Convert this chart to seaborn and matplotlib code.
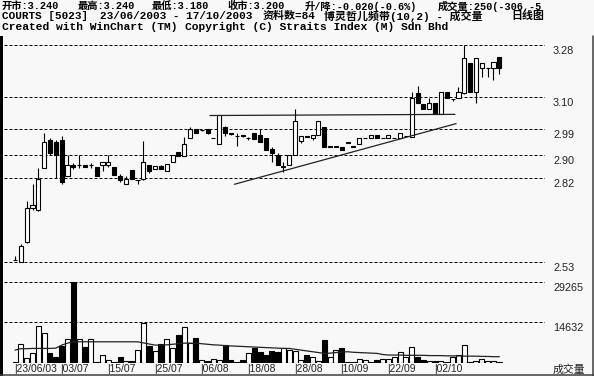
import numpy as np
import pandas as pd
import matplotlib
matplotlib.use("Agg")
import matplotlib.pyplot as plt
import matplotlib.transforms as mtransforms
from matplotlib.patches import Rectangle
from matplotlib.lines import Line2D
import seaborn as sns

# ---------------- data ----------------
opens = [2.535, 2.530, 2.600, 2.715, 2.710, 2.855, 2.950, 2.945, 2.950, 2.825,
         2.865, 2.864, 2.866, 2.864, 2.857, 2.866, 2.866, 2.857, 2.828, 2.798,
         2.847, 2.812, 2.816, 2.865, 2.850, 2.860, 2.845, 2.874, 2.909, 2.897,
         2.957, 2.988, 2.985, 2.990, 2.957, 2.937, 2.995, 2.977, 2.965, 2.969,
         2.957, 2.974, 2.969, 2.957, 2.919, 2.899, 2.859, 2.865, 2.899, 2.949,
         2.965, 2.957, 2.969, 2.995, 2.928, 2.928, 2.928, 2.942, 2.928, 2.937,
         2.957, 2.957, 2.969, 2.957, 2.957, 2.957, 2.957, 2.965, 2.963, 3.115,
         3.076, 3.058, 3.078, 3.040, 3.116, 3.094, 3.096, 3.113, 3.217, 3.116,
         3.200, 3.200, 3.200, 3.240]
highs = [2.550, 2.590, 2.740, 2.800, 2.855, 2.975, 2.957, 2.950, 2.965, 2.900,
         2.870, 2.900, 2.866, 2.872, 2.857, 2.876, 2.900, 2.857, 2.833, 2.825,
         2.847, 2.812, 2.948, 2.865, 2.860, 2.865, 2.867, 2.899, 2.909, 2.960,
         2.995, 2.990, 2.987, 2.990, 2.957, 3.038, 3.000, 2.977, 2.974, 2.969,
         2.960, 2.974, 2.988, 2.957, 2.928, 2.905, 2.876, 2.899, 3.057, 2.965,
         2.965, 2.969, 3.018, 2.995, 2.928, 2.928, 2.928, 2.942, 2.928, 2.957,
         2.957, 2.969, 2.969, 2.957, 2.969, 2.957, 2.977, 2.965, 3.116, 3.138,
         3.076, 3.096, 3.078, 3.116, 3.116, 3.094, 3.136, 3.280, 3.217, 3.236,
         3.217, 3.200, 3.220, 3.240]
lows = [2.535, 2.528, 2.595, 2.710, 2.705, 2.855, 2.899, 2.820, 2.800, 2.825,
        2.850, 2.855, 2.858, 2.855, 2.827, 2.843, 2.857, 2.829, 2.805, 2.798,
        2.816, 2.800, 2.814, 2.838, 2.850, 2.850, 2.845, 2.874, 2.897, 2.897,
        2.957, 2.976, 2.983, 2.972, 2.957, 2.937, 2.965, 2.968, 2.930, 2.962,
        2.953, 2.955, 2.945, 2.917, 2.876, 2.865, 2.842, 2.865, 2.899, 2.940,
        2.960, 2.952, 2.969, 2.928, 2.928, 2.928, 2.917, 2.942, 2.928, 2.937,
        2.957, 2.957, 2.957, 2.957, 2.957, 2.957, 2.957, 2.965, 2.961, 3.078,
        3.058, 3.058, 3.040, 3.040, 3.096, 3.085, 3.096, 3.110, 3.116, 3.078,
        3.170, 3.170, 3.160, 3.180]
closes = [2.535, 2.585, 2.715, 2.725, 2.815, 2.945, 2.905, 2.900, 2.805, 2.865,
          2.857, 2.866, 2.858, 2.866, 2.827, 2.875, 2.875, 2.829, 2.813, 2.816,
          2.816, 2.812, 2.874, 2.845, 2.860, 2.850, 2.867, 2.899, 2.897, 2.937,
          2.988, 2.976, 2.985, 2.975, 2.957, 3.038, 2.974, 2.972, 2.965, 2.965,
          2.957, 2.955, 2.945, 2.917, 2.905, 2.865, 2.859, 2.899, 3.018, 2.965,
          2.962, 2.969, 3.018, 2.928, 2.928, 2.928, 2.917, 2.942, 2.928, 2.957,
          2.957, 2.969, 2.957, 2.957, 2.969, 2.957, 2.977, 2.965, 3.096, 3.078,
          3.058, 3.078, 3.040, 3.116, 3.096, 3.094, 3.116, 3.236, 3.116, 3.236,
          3.217, 3.200, 3.220, 3.200]
volumes = [300, 6700, 1500, 3300, 13200, 10800, 3300, 1900, 6000, 8400,
           29265, 8400, 5700, 8400, 300, 2700, 1000, 300, 1900, 500,
           500, 4500, 14200, 6000, 4300, 6700, 8400, 5100, 10000, 12900,
           7000, 8800, 800, 600, 1400, 800, 6300, 1000, 200, 1000,
           3500, 5100, 3900, 2800, 4300, 3900, 5100, 4500, 4300, 1000,
           2700, 1900, 400, 8100, 1900, 4500, 5100, 200, 200, 1400,
           800, 300, 800, 1400, 1400, 2000, 3900, 1900, 5700, 1900,
           800, 600, 600, 400, 300, 1900, 2700, 6300, 300, 600,
           1400, 600, 556, 250]
volume_avg = [4500, 5000, 5000, 5100, 5100, 5100, 5100, 5200, 6300, 7000,
              7500, 7500, 7500, 7500, 7500, 7500, 7500, 7500, 7500, 7500,
              7500, 7500, 7100, 6700, 6300, 6300, 6400, 6600, 6800, 7000,
              7000, 7000, 6800, 6600, 6400, 6300, 6100, 6000, 5900, 5800,
              5700, 5600, 5500, 5400, 5300, 5200, 5100, 5100, 4800, 4500,
              4200, 3900, 3600, 3300, 3400, 3600, 3800, 3900, 3700, 3600,
              3500, 3400, 3300, 2900, 2700, 2700, 2700, 2600, 2600, 2600,
              2600, 2500, 2500, 2500, 2400, 2400, 2400, 2300, 2300, 2300,
              2200, 2200, 2100, 2100]
price_levels = [3.28, 3.10, 2.99, 2.90, 2.82, 2.53]
price_labels = ["3.28", "3.10", "2.99", "2.90", "2.82", "2.53"]
volume_levels = [29265, 14632]
volume_labels = ["29265", "14632"]
date_positions = [0, 8, 16, 24, 32, 40, 48, 56, 64, 72]
date_labels = ["|23/06/03", "|03/07", "|15/07", "|25/07", "|06/08",
               "|18/08", "|28/08", "|10/09", "|22/09", "|02/10"]
resistance_x = [33.4, 75.4]
resistance_y = [3.036, 3.040]
support_x = [37.6, 75.6]
support_y = [2.798, 3.008]

header_line1 = [(2, "开市:3.240"), (78, "最高:3.240"), (152, "最低:3.180"),
                (227, "收市:3.200"), (305, "升/降:-0.020(-0.6%)"),
                (438, "成交量:250(-306,-5")]
header_line2 = [(2, "COURTS [5023]"), (100, "23/06/2003 - 17/10/2003"),
                (263, "资料数=84"), (324, "博灵哲儿频带(10,2) - 成交量"),
                (511, "日线图")]
header_line3 = [(2, "Created with WinChart (TM)"),
                (185, "Copyright (C) Straits Index (M) Sdn Bhd")]

# ---------------- styling ----------------
sns.set_theme(style="white")
plt.rcParams["font.family"] = ["Liberation Sans", "Noto Sans CJK SC"]
BG = "#f8f8f8"
W, H = 594, 376

fig = plt.figure(figsize=(W / 100, H / 100), dpi=100, facecolor=BG)


def rect(x0, y0, x1, y1):
    return [x0 / W, 1 - y1 / H, (x1 - x0) / W, (y1 - y0) / H]


ax = fig.add_axes(rect(4, 40, 545, 270))
ax2 = fig.add_axes(rect(4, 276, 545, 362.5))
for a in (ax, ax2):
    a.set_facecolor(BG)
    for s in a.spines.values():
        s.set_visible(False)

n = len(closes)
idx = np.arange(n)
o = np.array(opens); c = np.array(closes)
h = np.array(highs); l = np.array(lows)
up = c >= o

xlim = (-1.885, 90.83)

# price panel
for lv in price_levels:
    ax.axhline(lv, color="black", lw=0.72, ls=(0, (3, 2)), zorder=1)
ax.vlines(idx, l, h, color="black", lw=0.8, zorder=2)
body_h = np.maximum(np.abs(c - o), 0.0008)
ax.bar(idx, body_h, bottom=np.minimum(o, c), width=0.7,
       color=np.where(up, "white", "black"), edgecolor="black",
       linewidth=0.8, zorder=3)
ax.plot(resistance_x, resistance_y, color="#222222", lw=0.9, zorder=4)
ax.plot(support_x, support_y, color="#222222", lw=0.9, zorder=4)
ax.set_xlim(*xlim)
ax.set_ylim(2.50145, 3.2973)
ax.set_xticks([]); ax.set_yticks([])

for lv, lab in zip(price_levels, price_labels):
    ax.annotate(lab, xy=(1.0148, lv), xycoords=("axes fraction", "data"),
                xytext=(0, -4.5), textcoords="offset points",
                va="center", ha="left", fontsize=7.8, color="#222222")

# volume panel
vdf = pd.DataFrame({"i": idx, "vol": volumes, "avg": volume_avg,
                    "dir": np.where(up, "up", "down")})
for lv in volume_levels:
    ax2.axhline(lv, color="black", lw=0.72, ls=(0, (3, 2)), zorder=0)
sns.barplot(data=vdf, x="i", y="vol", hue="dir", dodge=False,
            palette={"up": "white", "down": "black"}, saturation=1,
            edgecolor="black", linewidth=0.8, width=0.85, errorbar=None,
            legend=False, ax=ax2, zorder=2)
sns.lineplot(data=vdf, x="i", y="avg", color="#222222", lw=0.9, ax=ax2,
             zorder=3)
ax2.set_xlim(*xlim)
ax2.set_ylim(0, 31330)
ax2.set_xticks([]); ax2.set_yticks([])
ax2.set_xlabel(""); ax2.set_ylabel("")

for lv, lab in zip(volume_levels, volume_labels):
    ax2.annotate(lab, xy=(1.0148, lv), xycoords=("axes fraction", "data"),
                 xytext=(0, -4.5), textcoords="offset points",
                 va="center", ha="left", fontsize=7.8, color="#222222")

tr = mtransforms.blended_transform_factory(ax2.transData, ax2.transAxes)
for p, lab in zip(date_positions, date_labels):
    ax2.text(p - 0.2, -0.078, lab, transform=tr, ha="left", va="center",
             fontsize=7.4, color="#222222")
ax2.text(1.0148, -0.078, "成交量", transform=ax2.transAxes, ha="left",
         va="center", fontsize=7.8, color="#222222",
         family=["Noto Sans CJK SC", "Liberation Sans"])

# header
hdr_font = ["Liberation Mono", "Noto Sans CJK SC"]
for yy, line, fs in ((6, header_line1, 7.4), (16, header_line2, 7.9),
                     (26.5, header_line3, 8.1)):
    for xx, txt in line:
        fig.text(xx / W, 1 - yy / H, txt, ha="left", va="center",
                 fontsize=fs, fontweight="bold", family=hdr_font,
                 color="black")

# frame decorations
fig.add_artist(Rectangle((0, 0), 3 / W, (376 - 36) / H,
                         transform=fig.transFigure, color="black", lw=0))
fig.add_artist(Line2D([0, 1], [0.7 / H, 0.7 / H], transform=fig.transFigure,
                      color="#404040", lw=1.1))
fig.add_artist(Line2D([1 - 0.7 / W, 1 - 0.7 / W], [0, 1 - 36 / H],
                      transform=fig.transFigure, color="#404040", lw=1.1))

fig.savefig("out.png", dpi=100, facecolor=BG)
